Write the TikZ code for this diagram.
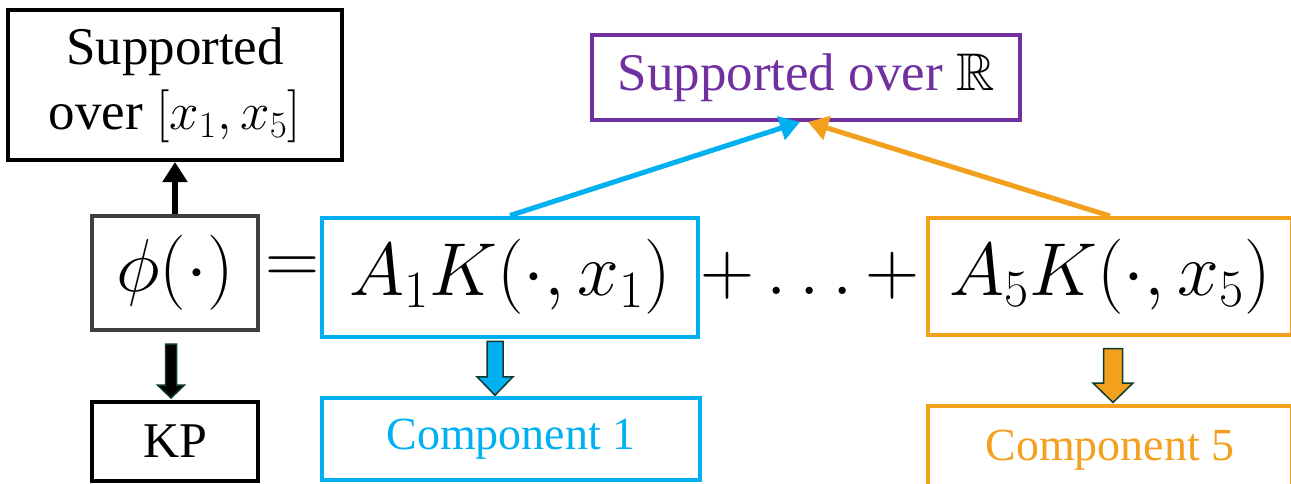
\RequirePackage{fix-cm}
\documentclass[tikz,border=0pt]{standalone}
\usepackage{amsmath}
\usepackage{amssymb}
\usepackage{fontspec}
\setmainfont{Liberation Serif}
\definecolor{kBlue}{HTML}{00B0F0}
\definecolor{kOrange}{HTML}{F2A01E}
\definecolor{kPurple}{HTML}{7030A0}
\definecolor{kGray}{HTML}{404040}
\definecolor{kEdge}{HTML}{0E3B2C}
\usetikzlibrary{calc, arrows.meta}
\newcommand{\eqsize}{\fontsize{37.5}{42}\selectfont}
\newcommand{\txtsize}{\fontsize{26.5}{32.5}\selectfont}

\begin{document}
\begin{tikzpicture}[x=0.5pt, y=-0.5pt,
		box/.style={draw, line width=2pt, inner sep=0pt},
		link/.style={line width=2.5pt, -{Triangle[length=10pt, width=12pt]}},
		blockarrow/.style={draw=kEdge, line width=0.75pt, line join=miter}]
	\useasboundingbox (0,0) rectangle (1291,483);
	\clip (0,0) rectangle (1291,483);
	% upper boxes
	\node[box, align=center, minimum width=167pt, minimum height=75pt, font=\txtsize] (supp) at (175,85) {Supported\\over $[x_1, x_5]$};
	\node[box, draw=kPurple, text=kPurple, minimum width=214pt, minimum height=42.5pt, font=\txtsize] (real) at (806,77.5) {Supported over \textcolor{black}{$\mathbb{R}$}};
	% the expansion
	\node[box, draw=kGray, minimum width=83pt, minimum height=57pt, font=\eqsize] (phi) at (175,273) {$\phi(\cdot)$};
	\node[font=\eqsize] (eq) at (292,270) {$=$};
	\node[box, draw=kBlue, minimum width=188pt, minimum height=59.5pt, font=\eqsize] (term1) at (510,277) {$A_1K(\cdot,x_1)$};
	\node[font=\eqsize] (dots) at (810,276) {$+\ldots+$};
	\node[box, draw=kOrange, minimum width=182pt, minimum height=58.5pt, font=\eqsize] (term5) at (1110,276.5) {$A_5K(\cdot,x_5)$};
	% lower boxes
	\node[box, minimum width=83pt, minimum height=39.5pt, font=\fontsize{25}{30}\selectfont] (kp) at (175,441.5) {KP};
	\node[box, draw=kBlue, text=kBlue, minimum width=189pt, minimum height=41pt, font=\fontsize{23}{28}\selectfont] (comp1) at (511,439) {Component 1};
	\node[box, draw=kOrange, text=kOrange, minimum width=182pt, minimum height=44pt, font=\fontsize{23}{28}\selectfont] (comp5) at (1110,450) {Component 5};
	% support arrows
	\draw[link, line width=3pt] (phi.north) -- (supp.south);
	\draw[link, kBlue] (term1.north) -- ([xshift=-3pt]real.south);
	\draw[link, kOrange] (term5.north) -- ([xshift=1pt]real.south);
	% block arrows down
	\foreach \a/\b/\dx/\dy/\s/\w/\hy/\col in {
		phi/kp/-4/5/5.5/13.5/14/black,
		term1/comp1/-15.5/1/8/18/8.5/kBlue,
		term5/comp5/3/5/9.5/20/7.5/kOrange}{
		\coordinate (m) at ($(\a.south)!0.5!(\b.north)+(\dx,\dy)$);
		\draw[blockarrow, fill=\col] ($(m)+(-\s,-27)$) -- ($(m)+(\s,-27)$) -- ($(m)+(\s,\hy)$) -- ($(m)+(\w,\hy)$) -- ($(m)+(0,27)$) -- ($(m)+(-\w,\hy)$) -- ($(m)+(-\s,\hy)$) -- cycle;
	}
\end{tikzpicture}
\end{document}
